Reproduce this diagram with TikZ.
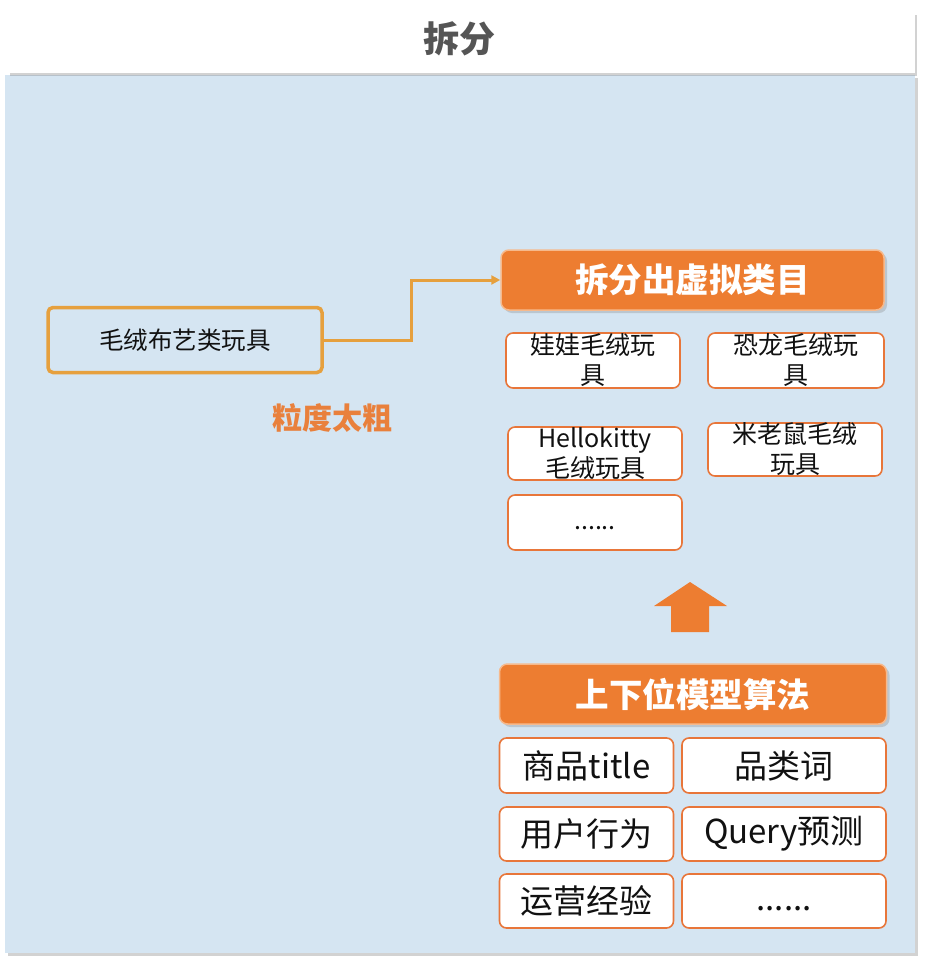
\documentclass[tikz,border=0pt]{standalone}
\usepackage{fontspec}
\setmainfont{Noto Sans CJK SC}
\usetikzlibrary{arrows.meta,positioning,shadows}
\definecolor{splInk}{HTML}{111111}
\definecolor{splGray}{HTML}{555555}
\definecolor{splSky}{HTML}{D5E5F2}
\definecolor{splOrange}{HTML}{ED7D31}
\definecolor{splRim}{HTML}{F6B98C}
\definecolor{splEdge}{HTML}{E8763A}
\definecolor{splGold}{HTML}{E6A03E}
\definecolor{splLabel}{HTML}{E9803C}
\tikzset{
    >=Latex,
    header/.style={draw=splRim, line width=1.5pt, rounded corners=8pt, fill=splOrange, text=white, align=center, font=\fontsize{33.5}{38}\selectfont\bfseries, minimum height=60pt, drop shadow={shadow xshift=3pt, shadow yshift=-3pt, opacity=0.3}},
    leaf/.style={draw=splEdge, line width=1.6pt, rounded corners=7pt, fill=white, text=splInk, align=center, inner sep=0pt, font=\fontsize{25}{30}\selectfont},
    cell/.style={draw=splEdge, line width=1.6pt, rounded corners=7pt, fill=white, text=splInk, align=center, inner sep=0pt, font=\fontsize{33}{38}\selectfont},
    source/.style={draw=splGold, line width=3.5pt, rounded corners=5pt, fill=splSky, text=splInk, align=center, font=\fontsize{24.5}{28}\selectfont},
    flowarrow/.style={-{Triangle[length=9pt,width=9pt]}, line width=3pt, draw=splGold}
}
\newcommand{\lowdots}[1]{\raisebox{-#1}[0pt][0pt]{......}}
\begin{document}
\begin{tikzpicture}[x=1pt,y=-1pt]
\useasboundingbox (0,0) rectangle (928,964);
\fill[white] (0,0) rectangle (928,964);
% panel and title bar
\path[fill=splSky, drop shadow={shadow xshift=3pt, shadow yshift=-3pt, opacity=0.35}] (5,75) rectangle (915,953);
\path[fill=white, drop shadow={shadow xshift=2pt, shadow yshift=-3pt, opacity=0.35}] (8,12) rectangle (915,73);
\node[text=splGray, font=\fontsize{36}{40}\selectfont\bfseries] (title) at (459,39) {拆分};

% source category
\node[source, minimum width=274pt, minimum height=65pt] (plush) at (185,340) {毛绒布艺类玩具};
\node[text=splLabel, font=\fontsize{30}{32}\selectfont\bfseries] (coarse) at (332,418) {粒度太粗};

% split result
\node[header, minimum width=383pt] (split) at (692.5,280) {拆分出虚拟类目};
\node[leaf, minimum width=174pt, minimum height=55pt] (doll) at (593,360.5) {娃娃毛绒玩\\具};
\node[leaf, minimum width=176pt, minimum height=55pt] (dino) at (796,360.5) {恐龙毛绒玩\\具};
\node[leaf, minimum width=174pt, minimum height=53pt] (kitty) at (595,453.5) {Hellokitty\\毛绒玩具};
\node[leaf, minimum width=174pt, minimum height=53pt] (mickey) at (795,449.5) {米老鼠毛绒\\玩具};
\node[leaf, minimum width=174pt, minimum height=55pt] (etc) at (595,522.5) {\lowdots{7pt}};

\draw[flowarrow] (plush.east) -- ++(88,0) |- (split.west);

% block arrow up
\fill[splOrange] (654,606) -- (690,582) -- (727,606) -- (709,606) -- (709,632) -- (671,632) -- (671,606) -- cycle;

% model and its inputs
\node[header, minimum width=387pt] (model) at (693,694) {上下位模型算法};
\node[cell, minimum width=174pt, minimum height=55pt] (title2) at (586.5,765.5) {商品title};
\node[cell, minimum width=204pt, minimum height=55pt] (word) at (784,765.5) {品类词};
\node[cell, minimum width=174pt, minimum height=54pt] (user) at (586.5,834) {用户行为};
\node[cell, minimum width=204pt, minimum height=54pt] (query) at (784,834) {Query预测};
\node[cell, minimum width=174pt, minimum height=54pt] (ops) at (586.5,901) {运营经验};
\node[cell, minimum width=204pt, minimum height=54pt] (more) at (784,901) {\lowdots{9pt}};
\end{tikzpicture}
\end{document}
